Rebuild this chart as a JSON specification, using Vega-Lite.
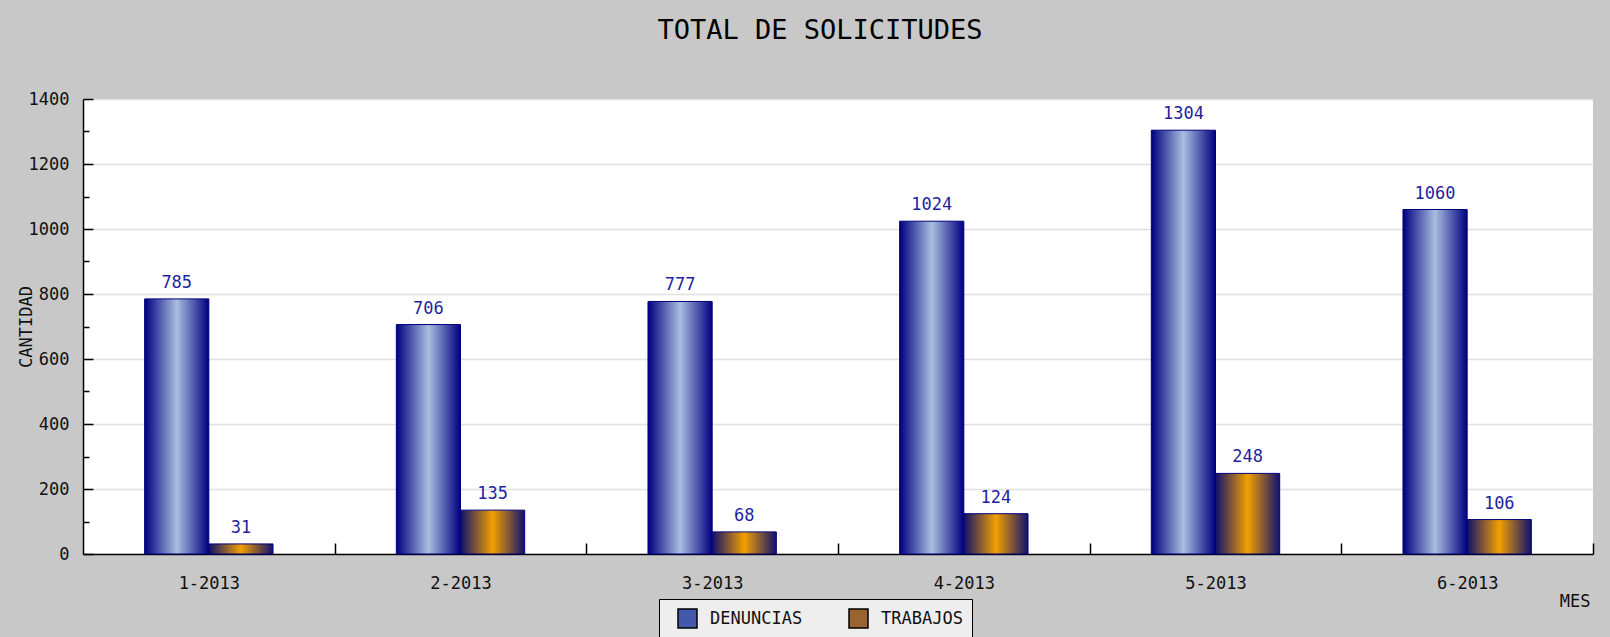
{
  "$schema": "https://vega.github.io/schema/vega-lite/v6.json",
  "width": 1510,
  "height": 455,
  "autosize": "none",
  "padding": {"left": 83, "top": 99, "right": 17, "bottom": 83},
  "background": "#c8c8c8",
  "title": {
    "text": "TOTAL DE SOLICITUDES",
    "font": "DejaVu Sans Mono",
    "fontSize": 27,
    "fontWeight": "normal",
    "color": "#000000",
    "anchor": "middle",
    "baseline": "alphabetic",
    "dx": -18,
    "offset": 24
  },
  "config": {
    "view": {"stroke": null, "fill": "#ffffff"},
    "font": "DejaVu Sans Mono",
    "axis": {
      "labelFont": "DejaVu Sans Mono",
      "titleFont": "DejaVu Sans Mono",
      "labelFontSize": 17,
      "titleFontSize": 17,
      "titleFontWeight": "normal",
      "labelColor": "#111111",
      "titleColor": "#111111",
      "domainColor": "#000000",
      "domainWidth": 1.5,
      "tickColor": "#000000",
      "tickWidth": 1.5
    }
  },
  "data": {
    "values": [
      {"mes": "1-2013", "serie": "DENUNCIAS", "cantidad": 785},
      {"mes": "1-2013", "serie": "TRABAJOS", "cantidad": 31},
      {"mes": "2-2013", "serie": "DENUNCIAS", "cantidad": 706},
      {"mes": "2-2013", "serie": "TRABAJOS", "cantidad": 135},
      {"mes": "3-2013", "serie": "DENUNCIAS", "cantidad": 777},
      {"mes": "3-2013", "serie": "TRABAJOS", "cantidad": 68},
      {"mes": "4-2013", "serie": "DENUNCIAS", "cantidad": 1024},
      {"mes": "4-2013", "serie": "TRABAJOS", "cantidad": 124},
      {"mes": "5-2013", "serie": "DENUNCIAS", "cantidad": 1304},
      {"mes": "5-2013", "serie": "TRABAJOS", "cantidad": 248},
      {"mes": "6-2013", "serie": "DENUNCIAS", "cantidad": 1060},
      {"mes": "6-2013", "serie": "TRABAJOS", "cantidad": 106}
    ]
  },
  "encoding": {
    "x": {
      "field": "mes",
      "type": "nominal",
      "sort": null,
      "scale": {"paddingInner": 0.49, "paddingOuter": 0.245},
      "axis": {
        "title": "MES",
        "labelAngle": 0,
        "tickSize": -11,
        "tickOffset": 125.83,
        "labelOffset": -125.83,
        "labelPadding": 32,
        "titleAnchor": "end",
        "titleAlign": "right",
        "titleX": 1507,
        "titleY": 47,
        "titleBaseline": "middle"
      }
    },
    "xOffset": {
      "field": "serie",
      "type": "nominal",
      "scale": {"domain": ["DENUNCIAS", "TRABAJOS"], "paddingInner": 0, "paddingOuter": 0}
    },
    "y": {
      "field": "cantidad",
      "type": "quantitative",
      "scale": {"domain": [0, 1400], "nice": false},
      "axis": {
        "title": "CANTIDAD",
        "format": "d",
        "values": [0, 100, 200, 300, 400, 500, 600, 700, 800, 900, 1000, 1100, 1200, 1300, 1400],
        "labelExpr": "datum.value % 200 === 0 ? datum.label : ''",
        "tickSize": {"condition": {"test": "datum.value % 200 !== 0", "value": -6}, "value": -10},
        "labelPadding": 24,
        "grid": true,
        "gridColor": "#e0e0e0",
        "gridWidth": 1.5,
        "gridOpacity": {"condition": {"test": "datum.value % 200 !== 0", "value": 0}, "value": 1},
        "titleX": -57,
        "titleBaseline": "middle"
      }
    }
  },
  "layer": [
    {
      "mark": {"type": "bar", "opacity": 0},
      "encoding": {
        "color": {
          "field": "serie",
          "type": "nominal",
          "scale": {"domain": ["DENUNCIAS", "TRABAJOS"], "range": ["#4558ac", "#9a6430"]},
          "legend": {
            "title": null,
            "orient": "none",
            "legendX": 576,
            "legendY": 500,
            "direction": "horizontal",
            "fillColor": "#eeeeee",
            "strokeColor": "#000000",
            "padding": 9,
            "symbolOffset": 9,
            "symbolType": "square",
            "symbolSize": 361,
            "symbolStrokeColor": "#000000",
            "symbolStrokeWidth": 1.5,
            "symbolOpacity": 1,
            "labelFont": "DejaVu Sans Mono",
            "labelFontSize": 17,
            "labelColor": "#111111",
            "labelOffset": 12,
            "columnPadding": 36,
            "encode": {
              "symbols": {
                "update": {
                  "opacity": {"value": 1},
                  "stroke": {"value": "#000000"},
                  "strokeWidth": {"value": 1.5},
                  "fill": [
                    {"test": "datum.value === 'DENUNCIAS'", "value": {"gradient": "linear", "x1": 0, "x2": 1, "y1": 0, "y2": 0,
                      "stops": [{"offset": 0, "color": "#000080"}, {"offset": 0.5, "color": "#a9bedf"}, {"offset": 1, "color": "#000080"}]}},
                    {"value": {"gradient": "linear", "x1": 0, "x2": 1, "y1": 0, "y2": 0,
                      "stops": [{"offset": 0, "color": "#10106e"}, {"offset": 0.5, "color": "#f2a000"}, {"offset": 1, "color": "#10106e"}]}}
                  ]
                }
              }
            }
          }
        }
      }
    },
    {
      "transform": [{"filter": "datum.serie === 'DENUNCIAS'"}],
      "mark": {"type": "bar", "stroke": "#00007a", "strokeWidth": 1,
        "fill": {"gradient": "linear", "x1": 0, "x2": 1, "y1": 0, "y2": 0,
          "stops": [{"offset": 0, "color": "#000080"}, {"offset": 0.5, "color": "#a9bedf"}, {"offset": 1, "color": "#000080"}]}}
    },
    {
      "transform": [{"filter": "datum.serie === 'TRABAJOS'"}],
      "mark": {"type": "bar", "stroke": "#00007a", "strokeWidth": 1,
        "fill": {"gradient": "linear", "x1": 0, "x2": 1, "y1": 0, "y2": 0,
          "stops": [{"offset": 0, "color": "#10106e"}, {"offset": 0.5, "color": "#f2a000"}, {"offset": 1, "color": "#10106e"}]}}
    },
    {
      "mark": {"type": "text", "baseline": "alphabetic", "dy": -11, "fontSize": 17, "font": "DejaVu Sans Mono", "color": "#1f1fa0"},
      "encoding": {
        "text": {"field": "cantidad", "type": "quantitative"}
      }
    }
  ]
}
